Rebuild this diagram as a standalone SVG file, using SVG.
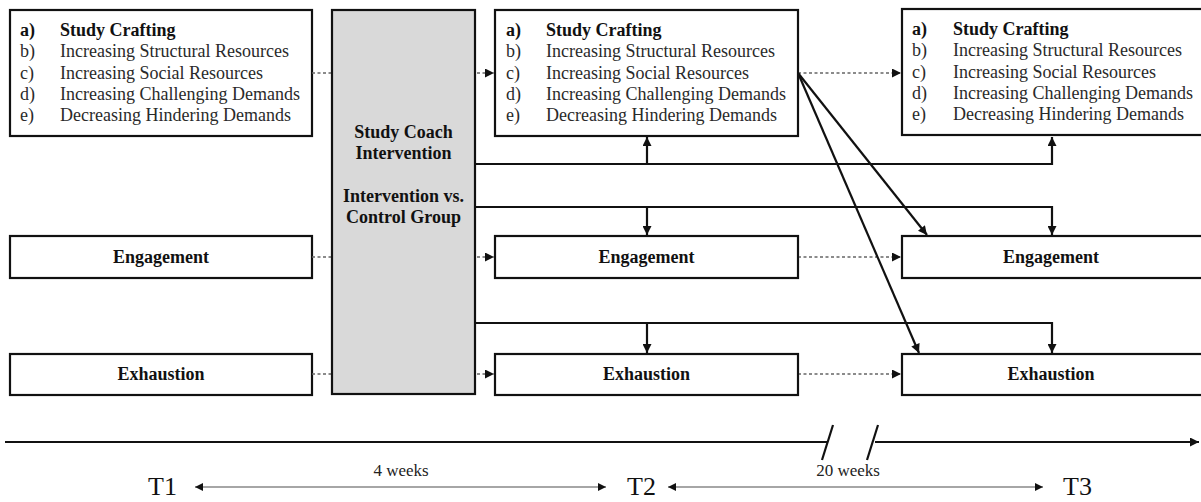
<svg xmlns="http://www.w3.org/2000/svg" width="1201" height="502" viewBox="0 0 1201 502">
<style>
.box{fill:#fff;stroke:#111;stroke-width:2.2}
.gray{fill:#d9d9d9;stroke:#111;stroke-width:2.2}
.t{font-family:"Liberation Serif","Times New Roman",serif;font-size:18px;fill:#2a2a2a}
.b{font-family:"Liberation Serif","Times New Roman",serif;font-size:18px;font-weight:bold;fill:#111}
.c{text-anchor:middle}
.dot{fill:none;stroke:#666;stroke-width:1.4;stroke-dasharray:3 2.5}
.sol{fill:none;stroke:#111;stroke-width:2.2}
.tl{fill:none;stroke:#111;stroke-width:2.2}
.thin{fill:none;stroke:#888;stroke-width:1.5}
.big{font-family:"Liberation Serif","Times New Roman",serif;font-size:26px;fill:#111}
.wk{font-family:"Liberation Serif","Times New Roman",serif;font-size:17px;fill:#222;text-anchor:middle}
</style>
<defs>
<marker id="ah" viewBox="0 0 10 10" refX="10" refY="5" markerWidth="11" markerHeight="9" markerUnits="userSpaceOnUse" orient="auto-start-reverse"><path d="M0,0 L10,5 L0,10 z" fill="#111"/></marker>
<marker id="dh" viewBox="0 0 10 10" refX="10" refY="5" markerWidth="9" markerHeight="9" markerUnits="userSpaceOnUse" orient="auto"><path d="M0,0 L10,5 L0,10 z" fill="#111"/></marker>
<marker id="sh" viewBox="0 0 10 10" refX="10" refY="5" markerWidth="9" markerHeight="8" markerUnits="userSpaceOnUse" orient="auto-start-reverse"><path d="M0,0 L10,5 L0,10 z" fill="#111"/></marker>
</defs>

<g id="sc1">
<rect class="box" x="10" y="10" width="302" height="126"/>
<text class="b" x="20" y="36">a)</text><text class="b" x="60" y="36">Study Crafting</text>
<text class="t" x="20" y="57">b)</text><text class="t" x="60" y="57">Increasing Structural Resources</text>
<text class="t" x="20" y="79">c)</text><text class="t" x="60" y="79">Increasing Social Resources</text>
<text class="t" x="20" y="100">d)</text><text class="t" x="60" y="100">Increasing Challenging Demands</text>
<text class="t" x="20" y="121">e)</text><text class="t" x="60" y="121">Decreasing Hindering Demands</text>
</g>

<g id="eng1"><rect class="box" x="10" y="236" width="302" height="42"/><text class="b c" x="161" y="263">Engagement</text></g>
<g id="exh1"><rect class="box" x="10" y="354" width="302" height="41"/><text class="b c" x="161" y="380">Exhaustion</text></g>

<g id="connectors">
<path class="dot" d="M312,73 H494" marker-end="url(#dh)"/>
<path class="dot" d="M312,257 H494" marker-end="url(#dh)"/>
<path class="dot" d="M312,374 H494" marker-end="url(#dh)"/>
<path class="dot" d="M798,73 H901" marker-end="url(#dh)"/>
<path class="dot" d="M798,257 H901" marker-end="url(#dh)"/>
<path class="dot" d="M798,374 H901" marker-end="url(#dh)"/>
<path class="sol" d="M475,164 H1052 V137" marker-end="url(#ah)"/>
<path class="sol" d="M647,164 V137" marker-end="url(#ah)"/>
<path class="sol" d="M475,207 H1052 V235" marker-end="url(#ah)"/>
<path class="sol" d="M647,207 V235" marker-end="url(#ah)"/>
<path class="sol" d="M475,323 H1052 V353" marker-end="url(#ah)"/>
<path class="sol" d="M647,323 V353" marker-end="url(#ah)"/>
<path class="sol" d="M798,73 L927,235" marker-end="url(#ah)"/>
<path class="sol" d="M798,73 L919,353" marker-end="url(#ah)"/>
</g>

<g id="coach">
<rect class="gray" x="332" y="10" width="143" height="384"/>
<text class="b c" x="403.5" y="138">Study Coach</text>
<text class="b c" x="403.5" y="159">Intervention</text>
<text class="b c" x="403.5" y="202">Intervention vs.</text>
<text class="b c" x="403.5" y="223">Control Group</text>
</g>

<g id="sc2">
<rect class="box" x="495" y="10" width="303" height="126"/>
<text class="b" x="506" y="36">a)</text><text class="b" x="546" y="36">Study Crafting</text>
<text class="t" x="506" y="57">b)</text><text class="t" x="546" y="57">Increasing Structural Resources</text>
<text class="t" x="506" y="79">c)</text><text class="t" x="546" y="79">Increasing Social Resources</text>
<text class="t" x="506" y="100">d)</text><text class="t" x="546" y="100">Increasing Challenging Demands</text>
<text class="t" x="506" y="121">e)</text><text class="t" x="546" y="121">Decreasing Hindering Demands</text>
</g>
<g id="eng2"><rect class="box" x="495" y="236" width="303" height="42"/><text class="b c" x="646.5" y="263">Engagement</text></g>
<g id="exh2"><rect class="box" x="495" y="354" width="303" height="41"/><text class="b c" x="646.5" y="380">Exhaustion</text></g>

<g id="sc3">
<rect class="box" x="902" y="9" width="305" height="126"/>
<text class="b" x="912" y="35">a)</text><text class="b" x="953" y="35">Study Crafting</text>
<text class="t" x="912" y="56">b)</text><text class="t" x="953" y="56">Increasing Structural Resources</text>
<text class="t" x="912" y="78">c)</text><text class="t" x="953" y="78">Increasing Social Resources</text>
<text class="t" x="912" y="99">d)</text><text class="t" x="953" y="99">Increasing Challenging Demands</text>
<text class="t" x="912" y="120">e)</text><text class="t" x="953" y="120">Decreasing Hindering Demands</text>
</g>
<g id="eng3"><rect class="box" x="902" y="236" width="305" height="42"/><text class="b c" x="1051" y="263">Engagement</text></g>
<g id="exh3"><rect class="box" x="902" y="354" width="305" height="41"/><text class="b c" x="1051" y="380">Exhaustion</text></g>

<g id="timeline">
<path class="tl" d="M5,442 H827"/>
<path class="tl" d="M875,442 H1199" marker-end="url(#ah)"/>
<path class="tl" d="M833,425 L822,460"/>
<path class="tl" d="M878,425 L867,460"/>
<path class="thin" d="M195,487 H606" marker-start="url(#sh)" marker-end="url(#sh)"/>
<path class="thin" d="M668,487 H1043" marker-start="url(#sh)" marker-end="url(#sh)"/>
<text class="wk" x="401" y="476">4 weeks</text>
<text class="wk" x="848" y="476">20 weeks</text>
<text class="big" x="148" y="495">T1</text>
<text class="big" x="627" y="495">T2</text>
<text class="big" x="1063" y="495">T3</text>
</g>
</svg>
